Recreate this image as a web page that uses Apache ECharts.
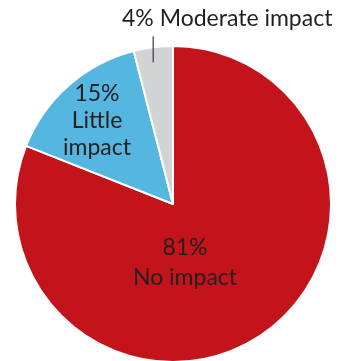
<!DOCTYPE html>
<html>
<head>
<meta charset="utf-8">
<script src="https://cdn.jsdelivr.net/npm/echarts@6/dist/echarts.min.js"></script>
<style>
    html, body { margin: 0; padding: 0; background: #fff; }
    #chart { width: 355px; height: 361px; }
</style>
</head>
<body>
<div id="chart"></div>
<script>
// 各部分数据
var categories = ['No impact', 'Little impact', 'Moderate impact'];
var values = [81, 15, 4];
var labelTexts = ['81%\nNo impact', '15%\nLittle\nimpact', '4% Moderate impact'];
var colors = ['#c3141c', '#55b6e0', '#d2d3d5'];

// label 位置 (像素)
var labelSpots = [
    { x: 185, y: 263, align: 'center', lineHeight: 30 },
    { x: 97, y: 121, align: 'center', lineHeight: 27 },
    { x: 122, y: 19, align: 'left', lineHeight: 24 }
];

var cx = 173, cy = 204, R = 158;

var myChart = echarts.init(document.getElementById('chart'));

// 扇区中线角度 (从顶部顺时针)
function midAngle(idx) {
    var total = 0, before = 0;
    values.forEach(function(v, i) {
        total += v;
        if (i < idx) before += v;
    });
    return (before + values[idx] / 2) / total * Math.PI * 2;
}

var baseData = values.map(function(v, i) {
    return {
        name: categories[i],
        value: v,
        itemStyle: { color: colors[i] },
        label: {
            show: i < 2,
            position: 'inside',
            formatter: labelTexts[i],
            lineHeight: labelSpots[i].lineHeight
        },
        labelLine: { show: false }
    };
});

// 上层透明饼图, 只画灰色扇区的标签和引线
var overlayData = values.map(function(v, i) {
    return {
        name: categories[i],
        value: v,
        label: {
            show: i == 2,
            position: 'outside',
            formatter: labelTexts[i],
            lineHeight: labelSpots[i].lineHeight
        },
        labelLine: {
            show: i == 2,
            length: 10,
            length2: 0,
            lineStyle: { color: '#3a3a3a', width: 1.2 }
        }
    };
});

var labelStyle = {
    color: '#231f20',
    fontFamily: 'Lato',
    fontSize: 23,
    align: 'center'
};

function layoutFn(params) {
    var s = labelSpots[params.dataIndex];
    var res = {
        x: s.x,
        y: s.y,
        align: s.align,
        verticalAlign: 'middle'
    };
    if (params.dataIndex == 2) {
        // 竖线伸进灰色扇区
        var a = midAngle(2);
        var ex = cx + R * Math.sin(a);
        var ey = cy - R * Math.cos(a);
        res.labelLinePoints = [[ex, ey + 15], [ex, ey - 11]];
    }
    return res;
}

var option = {
    animation: false,
    series: [{
        type: 'pie',
        z: 2,
        center: [cx, cy],
        radius: R,
        startAngle: 90,
        clockwise: true,
        avoidLabelOverlap: false,
        itemStyle: {
            borderColor: '#fff',
            borderWidth: 2
        },
        label: labelStyle,
        emphasis: { disabled: true },
        data: baseData,
        labelLayout: layoutFn
    }, {
        type: 'pie',
        z: 5,
        silent: true,
        center: [cx, cy],
        radius: R,
        startAngle: 90,
        clockwise: true,
        avoidLabelOverlap: false,
        itemStyle: {
            color: 'rgba(0,0,0,0)',
            borderWidth: 0
        },
        label: labelStyle,
        emphasis: { disabled: true },
        data: overlayData,
        labelLayout: layoutFn
    }]
};

myChart.setOption(option);
</script>
</body>
</html>
